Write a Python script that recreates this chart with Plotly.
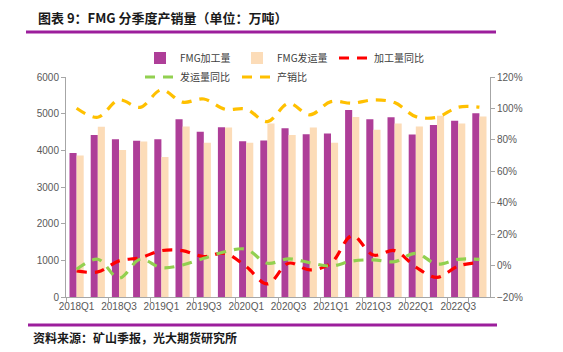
import plotly.graph_objects as go

quarters = [f"{y}Q{q}" for y in range(2018, 2023) for q in range(1, 5)]
tick_labels = quarters[::2]

production = [3930, 4420, 4300, 4260, 4300, 4850, 4510, 4630, 4250, 4270,
              4600, 4440, 4460, 5100, 4850, 4900, 4430, 4690, 4810, 5010]
shipment = [3860, 4640, 4010, 4240, 3820, 4650, 4210, 4620, 4210, 4730,
            4420, 4620, 4210, 4910, 4560, 4730, 4650, 4940, 4730, 4920]
prod_yoy = [-3.4, -4.0, 3.0, 5.0, 9.5, 9.5, 5.7, 7.8, -0.7, -11.7,
            1.5, -2.8, 1.5, 19.0, 6.7, 9.5, -1.0, -7.5, -0.3, 2.0]
ship_yoy = [-2.4, 4.0, -8.0, 4.0, -1.3, 0.4, 4.6, 8.8, 10.4, 1.5,
            4.3, 1.8, -0.3, 2.9, 3.6, 2.5, 7.8, 1.0, 4.0, 4.0]
ratio = [100.1, 94.4, 105.4, 100.7, 111.8, 104.0, 106.0, 99.5, 99.5, 91.6,
         103.2, 95.9, 104.3, 103.3, 105.4, 103.7, 94.8, 94.4, 100.8, 100.8]

# layout geometry in pixels
W, H = 563, 352
L, R, T, B = 66, 490, 77, 297
pw, ph = R - L, B - T

def px(x):
    return (x - L) / pw

def py(y):
    return (B - y) / ph

font_cn = "Noto Sans CJK SC"
font_num = "Liberation Sans"

fig = go.Figure()
fig.add_trace(go.Bar(x=quarters, y=production, name="FMG加工量",
                     marker=dict(color="#AE3E98", line=dict(width=0)),
                     legend="legend"))
fig.add_trace(go.Bar(x=quarters, y=shipment, name="FMG发运量",
                     marker=dict(color="#FCDCB8", line=dict(width=0)),
                     legend="legend"))
fig.add_trace(go.Scatter(x=quarters, y=prod_yoy, name="加工量同比", yaxis="y2",
                         mode="lines", line=dict(color="#FF0000", width=3.2,
                                                 dash="10px,8px", shape="spline"),
                         legend="legend"))
fig.add_trace(go.Scatter(x=quarters, y=ship_yoy, name="发运量同比", yaxis="y2",
                         mode="lines", line=dict(color="#92D050", width=3.2,
                                                 dash="10px,8px", shape="spline"),
                         legend="legend2"))
fig.add_trace(go.Scatter(x=quarters, y=ratio, name="产销比", yaxis="y2",
                         mode="lines", line=dict(color="#FFC000", width=3.2,
                                                 dash="10px,8px", shape="spline"),
                         legend="legend2"))

axis_font = dict(family=font_num, size=10, color="#595959")
legend_common = dict(orientation="h", xanchor="left", yanchor="middle",
                     font=dict(family=font_cn, size=10, color="#404040"),
                     bgcolor="rgba(0,0,0,0)", entrywidth=52, entrywidthmode="pixels",
                     itemwidth=30, tracegroupgap=0)

fig.update_layout(
    width=W, height=H,
    margin=dict(l=L, r=W - R, t=T, b=H - B),
    paper_bgcolor="white", plot_bgcolor="white",
    barmode="group", bargap=0.33, bargroupgap=0,
    xaxis=dict(type="category", tickvals=tick_labels, ticktext=tick_labels,
               tickangle=0, tickfont=axis_font, showline=True, linecolor="#A6A6A6",
               linewidth=1, ticks="outside", ticklen=4, tickcolor="#A6A6A6",
               tickson="boundaries", showgrid=False),
    yaxis=dict(range=[0, 6000], dtick=1000, tickfont=axis_font, showline=True,
               linecolor="#A6A6A6", ticks="outside", ticklen=4, tickcolor="#A6A6A6",
               showgrid=False, zeroline=False),
    yaxis2=dict(range=[-20, 120], dtick=20, ticksuffix="%", overlaying="y", side="right",
                tickfont=axis_font, showline=True, linecolor="#A6A6A6", ticks="outside",
                ticklen=4, tickcolor="#A6A6A6", showgrid=False, zeroline=False),
    legend=dict(x=px(140), y=py(58), **legend_common),
    legend2=dict(x=px(140), y=py(77), **legend_common),
    showlegend=True,
)

fig.add_annotation(text="<b>图表 9：FMG 分季度产销量（单位：万吨）</b>", xref="paper", yref="paper",
                   x=px(36), y=py(17), xanchor="left", yanchor="middle", showarrow=False,
                   font=dict(family=font_cn, size=13, color="#1a1a1a"))
fig.add_annotation(text="<b>资料来源：矿山季报，光大期货研究所</b>", xref="paper", yref="paper",
                   x=px(31), y=py(337), xanchor="left", yanchor="middle", showarrow=False,
                   font=dict(family=font_cn, size=12, color="#1a1a1a"))
fig.add_shape(type="line", xref="paper", yref="paper", x0=px(26), x1=px(496),
              y0=py(32), y1=py(32), line=dict(color="#9C1E9C", width=3))
fig.add_shape(type="line", xref="paper", yref="paper", x0=px(28), x1=px(497),
              y0=py(325), y1=py(325), line=dict(color="#9C1E9C", width=3))

fig.write_html("out.html")
